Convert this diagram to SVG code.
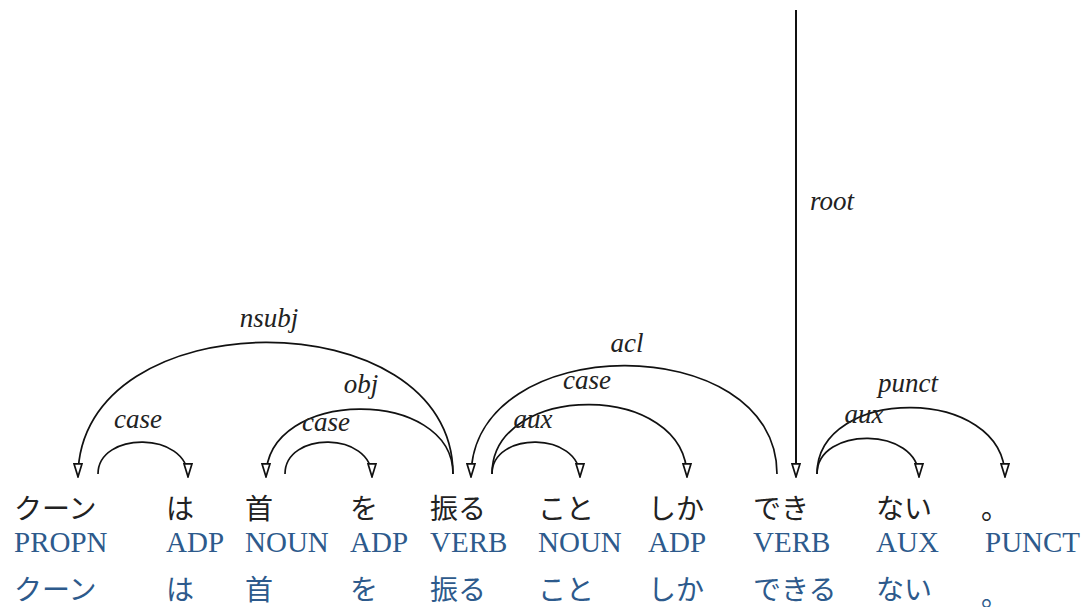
<svg xmlns="http://www.w3.org/2000/svg" width="1084" height="607" viewBox="0 0 1084 607">
<style>
.w{font-family:"Noto Sans CJK JP","Noto Sans",sans-serif;font-size:28px;fill:#222}
.p{font-family:"Liberation Serif",serif;font-size:29px;fill:#2d5a8c}
.l{font-family:"Noto Sans CJK JP","Noto Sans",sans-serif;font-size:28px;fill:#2d5a8c}
.arc{fill:none;stroke:#111;stroke-width:1.7}
.lab{font-family:"Liberation Serif",serif;font-style:italic;font-size:27px;fill:#222;text-anchor:middle}
</style>
<defs>
<marker id="ah" markerUnits="userSpaceOnUse" viewBox="0 0 15 10" refX="14.2" refY="5" markerWidth="15" markerHeight="10" orient="auto">
<path d="M1,1 L14,5 L1,9 z" fill="#fff" stroke="#111" stroke-width="1.7" stroke-linejoin="miter"/>
</marker>
</defs>
<g id="connectors">
<path class="arc" d="M453,474 C453,298 78,298 78,477" marker-end="url(#ah)"/>
<text class="lab" x="269" y="327">nsubj</text>
<path class="arc" d="M98,474 C98,431 188,431 188,477" marker-end="url(#ah)"/>
<text class="lab" x="138" y="428">case</text>
<path class="arc" d="M453,474 C453,387 266,387 266,477" marker-end="url(#ah)"/>
<text class="lab" x="361" y="393">obj</text>
<path class="arc" d="M285,474 C285,431 372,431 372,477" marker-end="url(#ah)"/>
<text class="lab" x="326" y="431">case</text>
<path class="arc" d="M777,474 C777,329 471,329 471,477" marker-end="url(#ah)"/>
<text class="lab" x="627" y="352">acl</text>
<path class="arc" d="M492,474 C492,381 687,381 687,477" marker-end="url(#ah)"/>
<text class="lab" x="587" y="389">case</text>
<path class="arc" d="M492,474 C492,431 580,431 580,477" marker-end="url(#ah)"/>
<text class="lab" x="533" y="428">aux</text>
<path class="arc" d="M796,10 L796,477" stroke="#333" style="stroke-width:2" marker-end="url(#ah)"/>
<text class="lab" x="832" y="210">root</text>
<path class="arc" d="M817,474 C817,385 1005,385 1005,477" marker-end="url(#ah)"/>
<text class="lab" x="908" y="392">punct</text>
<path class="arc" d="M817,474 C817,426 919,426 919,477" marker-end="url(#ah)"/>
<text class="lab" x="864" y="423">aux</text>
</g>
<g id="n1"><text class="w" x="14" y="519">クーン</text><text class="p" x="14" y="552">PROPN</text><text class="l" x="14" y="600">クーン</text></g>
<g id="n2"><text class="w" x="166" y="519">は</text><text class="p" x="166" y="552">ADP</text><text class="l" x="166" y="600">は</text></g>
<g id="n3"><text class="w" x="245" y="519">首</text><text class="p" x="245" y="552">NOUN</text><text class="l" x="245" y="600">首</text></g>
<g id="n4"><text class="w" x="350" y="519">を</text><text class="p" x="350" y="552">ADP</text><text class="l" x="350" y="600">を</text></g>
<g id="n5"><text class="w" x="430" y="519">振る</text><text class="p" x="430" y="552">VERB</text><text class="l" x="430" y="600">振る</text></g>
<g id="n6"><text class="w" x="538" y="519">こと</text><text class="p" x="538" y="552">NOUN</text><text class="l" x="538" y="600">こと</text></g>
<g id="n7"><text class="w" x="648" y="519">しか</text><text class="p" x="648" y="552">ADP</text><text class="l" x="648" y="600">しか</text></g>
<g id="n8"><text class="w" x="753" y="519">でき</text><text class="p" x="753" y="552">VERB</text><text class="l" x="753" y="600">できる</text></g>
<g id="n9"><text class="w" x="876" y="519">ない</text><text class="p" x="876" y="552">AUX</text><text class="l" x="876" y="600">ない</text></g>
<g id="n10"><text class="w" x="981" y="519">。</text><text class="p" x="985" y="552">PUNCT</text><text class="l" x="981" y="606">。</text></g>
</svg>
